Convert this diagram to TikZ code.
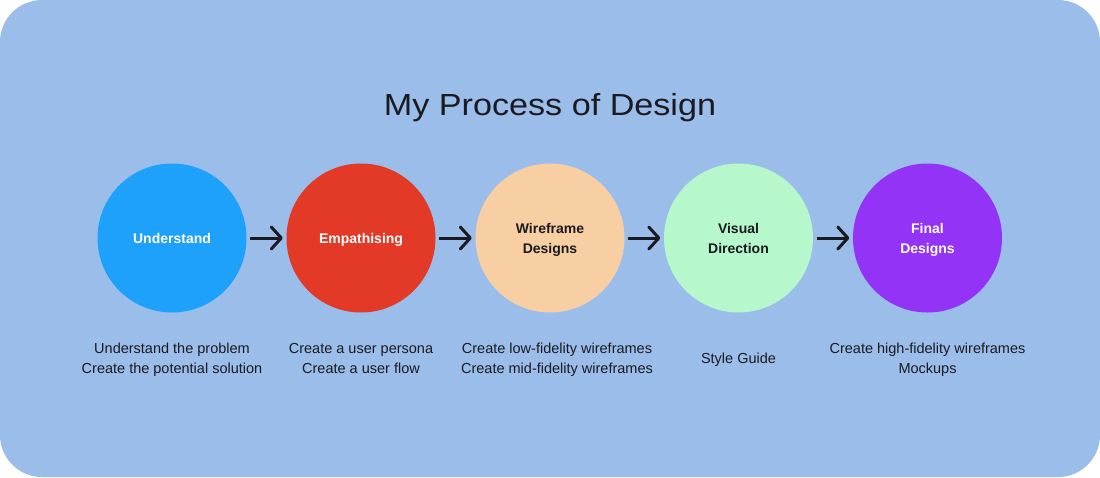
\documentclass[tikz,border=0pt]{standalone}
\usepackage{fontspec}
\setmainfont{Liberation Sans}
\usepackage{graphicx}
\usetikzlibrary{arrows.meta,calc}
\definecolor{bgblue}{RGB}{155,189,234}
\definecolor{cblue}{RGB}{29,161,250}
\definecolor{cred}{RGB}{227,57,39}
\definecolor{cpeach}{RGB}{247,207,163}
\definecolor{cmint}{RGB}{183,247,204}
\definecolor{cpurple}{RGB}{147,51,245}
\definecolor{ink}{RGB}{26,26,32}
\tikzset{
  stepcircle/.style={circle, minimum size=149pt, inner sep=0pt, draw=none},
  steplabel/.style={font=\fontsize{14}{20}\selectfont\bfseries, align=center, anchor=base},
  desc/.style={font=\fontsize{14.5}{20}\selectfont, text=ink, align=center, anchor=base},
  arr/.style={draw=ink, line width=3pt, shorten <=3.5pt, shorten >=3.5pt,
    -{Straight Barb[length=10pt,width=22pt,round]}},
  titletext/.style={font=\fontsize{30.5}{36}\selectfont, text=ink, anchor=base}
}
\begin{document}
\begin{tikzpicture}[x=1pt,y=-1pt]
\useasboundingbox (0,0) rectangle (1100,477);
\fill[white] (0,0) rectangle (1100,477);
\fill[bgblue, rounded corners=42pt] (0,0) rectangle (1100,477);

\node[titletext] (title) at (550,115) {\scalebox{1.12}[1]{My Process of Design}};

\node[stepcircle, fill=cblue]   (c1) at (172,238) {};
\node[stepcircle, fill=cred]    (c2) at (361,238) {};
\node[stepcircle, fill=cpeach]  (c3) at (550,238) {};
\node[stepcircle, fill=cmint]   (c4) at (738.5,238) {};
\node[stepcircle, fill=cpurple] (c5) at (927.5,238) {};

\node[steplabel, text=white] (l1) at (172,243) {Understand};
\node[steplabel, text=white] (l2) at (361,243) {Empathising};
\node[steplabel, text=ink]   (l3) at (550,253) {Wireframe\\Designs};
\node[steplabel, text=ink]   (l4) at (738.5,253) {Visual\\Direction};
\node[steplabel, text=white] (l5) at (927.5,253) {Final\\Designs};

\draw[arr] (c1) -- (c2);
\draw[arr] (c2) -- (c3);
\draw[arr] (c3) -- (c4);
\draw[arr] (c4) -- (c5);

\node[desc] (d1) at (172,373) {Understand the problem\\Create the potential solution};
\node[desc] (d2) at (361,373) {Create a user persona\\Create a user flow};
\node[desc] (d3) at (557,373) {Create low-fidelity wireframes\\Create mid-fidelity wireframes};
\node[desc] (d4) at (738.5,363) {Style Guide};
\node[desc] (d5) at (927.5,373) {Create high-fidelity wireframes\\Mockups};
\end{tikzpicture}
\end{document}
